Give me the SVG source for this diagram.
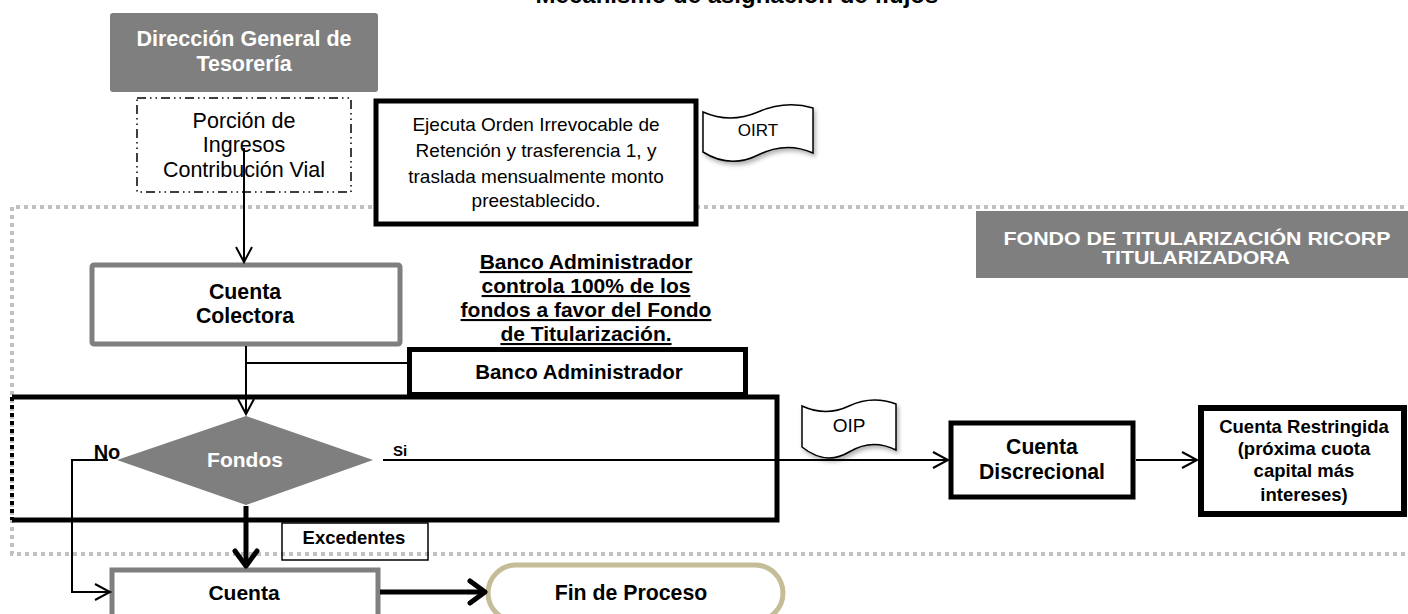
<svg xmlns="http://www.w3.org/2000/svg" width="1408" height="614" viewBox="0 0 1408 614">
<defs>
<style>
text{font-family:"Liberation Sans",Arial,sans-serif;text-anchor:middle}
.b{font-weight:bold}
.w{fill:#ffffff}
.n{font-size:21px}
.thick{fill:#ffffff;stroke:#000;stroke-width:5}
.grayb{fill:#ffffff;stroke:#7f7f7f;stroke-width:5}
.thin{fill:none;stroke:#000;stroke-width:2}
.heavy{fill:none;stroke:#000;stroke-width:5}
</style>
<marker id="aThin" markerUnits="userSpaceOnUse" markerWidth="20" markerHeight="20" refX="16" refY="9" orient="auto">
<path d="M1,1 L16,9 L1,17" fill="none" stroke="#000" stroke-width="2"/>
</marker>
<marker id="aThick" markerUnits="userSpaceOnUse" markerWidth="26" markerHeight="30" refX="18" refY="14" orient="auto">
<path d="M3,3 L18,14 L3,25" fill="none" stroke="#000" stroke-width="5" stroke-linecap="round" stroke-linejoin="round"/>
</marker>
<filter id="sh" x="-20%" y="-20%" width="140%" height="150%">
<feDropShadow dx="2" dy="3" stdDeviation="2" flood-color="#000" flood-opacity="0.3"/>
</filter>
</defs>
<rect width="1408" height="614" fill="#ffffff"/>

<text class="b" x="737" y="3" font-size="24">Mecanismo de asignación de flujos</text>

<g id="fondo-boundary">
<path d="M1412,207 H12 V554 H1412" fill="none" stroke="#c0c0c0" stroke-width="4" stroke-dasharray="4 4"/>
</g>

<g id="direccion">
<rect x="110" y="13" width="268" height="79" rx="3" fill="#7f7f7f"/>
<text class="b w" x="244" y="46" font-size="21.5">Dirección General de</text>
<text class="b w" x="244" y="71" font-size="21.5">Tesorería</text>
</g>

<g id="porcion">
<rect x="137" y="98" width="214" height="94" fill="#fff" stroke="#000" stroke-width="1.5" stroke-dasharray="9 4 1.5 4 1.5 4"/>
<text x="244" y="128" font-size="21.5">Porción de</text>
<text x="244" y="152" font-size="21.5">Ingresos</text>
<text x="244" y="177" font-size="21.5">Contribución Vial</text>
</g>

<g id="ejecuta">
<rect class="thick" x="376" y="101" width="320" height="123"/>
<text x="536" y="131" font-size="19">Ejecuta Orden Irrevocable de</text>
<text x="536" y="157" font-size="19">Retención y trasferencia 1, y</text>
<text x="536" y="183" font-size="19">traslada mensualmente monto</text>
<text x="536" y="207" font-size="19">preestablecido.</text>
</g>

<g id="oirt">
<path d="M703,112 Q730,124 758,112 T813,108 V153 Q786,141 758,155 T703,152 Z" fill="#fff" stroke="#000" stroke-width="1.5" filter="url(#sh)"/>
<text x="758" y="136" font-size="17">OIRT</text>
</g>

<g id="fondo-label">
<rect x="976" y="211" width="434" height="67" fill="#7f7f7f"/>
<text class="b w" x="1197" y="245" font-size="18" textLength="387" lengthAdjust="spacingAndGlyphs">FONDO DE TITULARIZACIÓN RICORP</text>
<text class="b w" x="1196" y="264" font-size="18" textLength="188" lengthAdjust="spacingAndGlyphs">TITULARIZADORA</text>
</g>

<g id="colectora">
<rect class="grayb" x="92" y="265" width="308" height="79" rx="2"/>
<text class="b" x="245" y="299" font-size="21.3">Cuenta</text>
<text class="b" x="245" y="323" font-size="21.3">Colectora</text>
</g>

<g id="nota-banco">
<text class="b n" x="586" y="269" text-decoration="underline">Banco Administrador</text>
<text class="b n" x="586" y="293" text-decoration="underline">controla 100% de los</text>
<text class="b n" x="586" y="317" text-decoration="underline">fondos a favor del Fondo</text>
<text class="b n" x="586" y="341" text-decoration="underline">de Titularización.</text>
</g>

<g id="contenedor">
<path d="M12,397 H777 V520 H12" fill="none" stroke="#000" stroke-width="5"/>
<line x1="12" y1="397" x2="12" y2="520" stroke="#000" stroke-width="4" stroke-dasharray="4 4"/>
</g>

<g id="banco">
<rect class="thick" x="409.5" y="349.5" width="336" height="45"/>
<text class="b" x="579" y="379" font-size="20.5">Banco Administrador</text>
</g>

<g id="fondos">
<polygon points="246,416 373,460 246,505 117,460" fill="#7f7f7f"/>
<text class="b w" x="245" y="467" font-size="21">Fondos</text>
</g>

<text class="b" x="107" y="459" font-size="20">No</text>
<text class="b" x="400" y="456" font-size="15">Si</text>

<g id="oip">
<path d="M802,406 Q826,417 849,406 T896,404 V450 Q872,438 849,452 T802,447 Z" fill="#fff" stroke="#000" stroke-width="1.5" filter="url(#sh)"/>
<text x="849" y="432" font-size="19">OIP</text>
</g>

<g id="discrecional">
<rect class="thick" x="951" y="423" width="182" height="74"/>
<text class="b" x="1042" y="454" font-size="21.2">Cuenta</text>
<text class="b" x="1042" y="479" font-size="21.2">Discrecional</text>
</g>

<g id="restringida">
<rect x="1201" y="408" width="203" height="106" fill="#fff" stroke="#000" stroke-width="6"/>
<text class="b" x="1304" y="433" font-size="18.5">Cuenta Restringida</text>
<text class="b" x="1304" y="455" font-size="18.5">(próxima cuota</text>
<text class="b" x="1304" y="477" font-size="18.5">capital más</text>
<text class="b" x="1304" y="501" font-size="18.5">intereses)</text>
</g>

<g id="excedentes">
<rect x="282" y="523" width="146" height="37" fill="none" stroke="#000" stroke-width="1.5"/>
<text class="b" x="354" y="544" font-size="18.5">Excedentes</text>
</g>

<g id="cuenta">
<rect class="grayb" x="112" y="570" width="266" height="60"/>
<text class="b n" x="244" y="600">Cuenta</text>
</g>

<g id="fin">
<rect x="488" y="565" width="295" height="56" rx="28" fill="#fff" stroke="#c4bd97" stroke-width="5"/>
<text class="b" x="631" y="600" font-size="21.3">Fin de Proceso</text>
</g>

<g id="connectors">
<path class="thin" d="M244,148 V262" marker-end="url(#aThin)"/>
<path class="thin" d="M246,346 V414" marker-end="url(#aThin)"/>
<path class="thin" d="M246,363 H407"/>
<path class="thin" d="M108,460 H72 V592 H110" marker-end="url(#aThin)"/>
<path class="thin" d="M383,460 H948" marker-end="url(#aThin)"/>
<path class="thin" d="M1136,460 H1197" marker-end="url(#aThin)"/>
<path class="heavy" d="M246,506 V566" marker-end="url(#aThick)"/>
<path class="heavy" d="M380,592 H485" marker-end="url(#aThick)"/>
</g>
</svg>
